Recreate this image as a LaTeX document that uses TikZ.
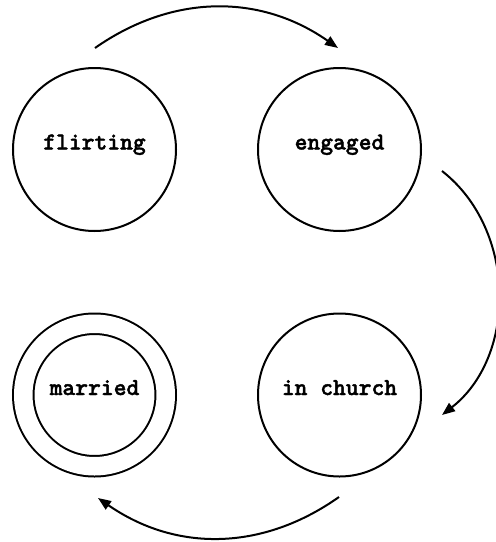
\documentclass[tikz,border=0pt]{standalone}
\usepackage{fontspec}
\newfontfamily\statefont{lmmonolt10-bold}[Extension=.otf, FakeBold=1.6]
\usetikzlibrary{arrows.meta}
\begin{document}
\begin{tikzpicture}[x=1pt,y=1pt,
  state/.style={circle, draw, line width=2pt, minimum size=163pt, inner sep=0pt,
    font=\statefont\fontsize{24.4pt}{27pt}\selectfont,
    text height=7pt, text depth=7pt},
  accept/.style={double, double distance=18.5pt, minimum size=142.5pt},
  trans/.style={line width=2pt, -{Triangle[length=13pt,width=10pt]}}]
\useasboundingbox (0,0) rectangle (496,-542);
\node[state] (flirting) at (94.5,-149.5) {flirting};
\node[state] (engaged) at (339.5,-149.5) {engaged};
\node[state,accept] (married) at (94.5,-395) {married};
\node[state] (church) at (339.5,-395) {in church};
\coordinate (a1s) at (95,-48);
\coordinate (a1e) at (338,-48);
\coordinate (a2s) at (442,-171);
\coordinate (a2e) at (442,-415);
\coordinate (a3s) at (339,-497);
\coordinate (a3e) at (98,-498);
\draw[trans] (a1s) to[bend left=35] (a1e);
\draw[trans] (a2s) to[bend left=52] (a2e);
\draw[trans] (a3s) to[bend left=35] (a3e);
\end{tikzpicture}
\end{document}
